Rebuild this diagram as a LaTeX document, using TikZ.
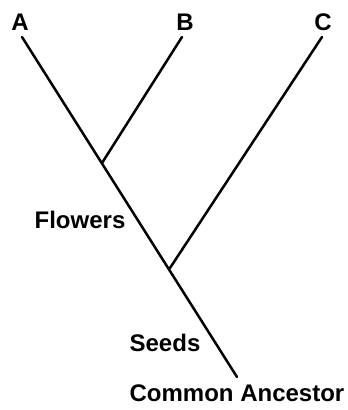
\documentclass[tikz,border=0pt]{standalone}
\usepackage{fontspec}
\setmainfont{Liberation Sans}
\begin{document}
\begin{tikzpicture}[x=1pt,y=1pt,
  lbl/.style={font=\fontsize{24}{26}\selectfont\bfseries, inner sep=0pt},
  branch/.style={line width=2.5pt, line cap=round}]
\useasboundingbox (0,0) rectangle (348,410);
\node[lbl] (A) at (20,388) {A};
\node[lbl] (B) at (185,388) {B};
\node[lbl] (C) at (323,388) {C};
\coordinate (tA) at (22,373);
\coordinate (tB) at (182,373);
\coordinate (tC) at (322,373);
\coordinate (jAB) at (102,247);
\coordinate (jC) at (170,142);
\coordinate (root) at (237,33);
\node[lbl] (flowers) at (80,190) {Flowers};
\node[lbl] (seeds) at (165,67) {Seeds};
\node[lbl] (ca) at (237,17) {Common Ancestor};
\draw[branch] (tA) -- (root);
\draw[branch] (tB) -- (jAB);
\draw[branch] (tC) -- (jC);
\end{tikzpicture}
\end{document}
